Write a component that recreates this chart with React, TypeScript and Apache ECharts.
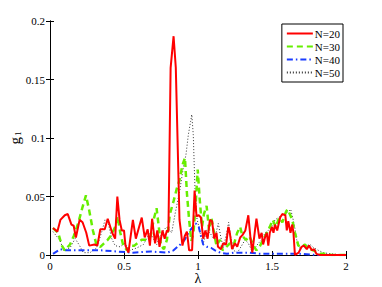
import React, { useEffect, useRef } from "react";
import * as echarts from "echarts";

const xTicks = ["0", "0.5", "1", "1.5", "2"];
const yTicks = ["0", "0.05", "0.1", "0.15", "0.2"];
const seriesNames = ["N=20", "N=30", "N=40", "N=50"];

const lamN20 = [0.02,0.05,0.07,0.10,0.12,0.145,0.16,0.175,0.20,0.22,0.245,0.265,0.30,0.32,0.34,0.37,0.39,0.42,0.44,0.455,0.47,0.485,0.50,0.51,0.53,0.56,0.58,0.60,0.62,0.64,0.66,0.675,0.69,0.71,0.725,0.74,0.76,0.775,0.79,0.80,0.815,0.835,0.85,0.875,0.885,0.895,0.91,0.925,0.94,0.96,0.977,0.99,1.005,1.02,1.035,1.05,1.065,1.08,1.095,1.11,1.125,1.135,1.155,1.17,1.19,1.205,1.215,1.23,1.25,1.265,1.285,1.30,1.32,1.34,1.355,1.367,1.385,1.395,1.415,1.43,1.44,1.455,1.465,1.475,1.485,1.50,1.51,1.52,1.535,1.555,1.57,1.59,1.60,1.61,1.625,1.637,1.645,1.655,1.68,1.70,1.715,1.735,1.75,1.77,1.785,1.80,1.825,1.90,2.00];
const gN20 = [0.023,0.020,0.030,0.034,0.035,0.026,0.025,0.015,0.030,0.028,0.019,0.008,0.009,0.008,0.022,0.022,0.031,0.019,0.014,0.050,0.030,0.021,0.021,0.008,0.002,0.030,0.014,0.023,0.032,0.015,0.022,0.008,0.031,0.010,0.021,0.007,0.021,0.014,0.021,0.020,0.160,0.187,0.160,0.030,0.020,0.008,0.016,0.020,0.004,0.004,0.055,0.033,0.034,0.032,0.014,0.021,0.014,0.030,0.029,0.014,0.019,0.007,0.005,0.010,0.009,0.024,0.019,0.005,0.010,0.007,0.015,0.017,0.021,0.034,0.014,0.002,0.021,0.031,0.014,0.019,0.009,0.016,0.019,0.008,0.019,0.024,0.019,0.026,0.021,0.032,0.035,0.034,0.021,0.029,0.019,0.026,0.019,0.000,0.002,0.007,0.008,0.005,0.008,0.004,0.005,0.001,0.000,0.000,0.000];

const lamN30 = [0.02,0.055,0.08,0.10,0.135,0.16,0.19,0.22,0.243,0.265,0.29,0.315,0.34,0.365,0.39,0.415,0.44,0.457,0.475,0.495,0.52,0.545,0.57,0.59,0.62,0.655,0.68,0.70,0.72,0.735,0.75,0.77,0.79,0.81,0.835,0.855,0.875,0.895,0.912,0.925,0.94,0.955,0.97,0.985,0.998,1.012,1.027,1.04,1.058,1.075,1.09,1.108,1.125,1.148,1.167,1.185,1.215,1.24,1.265,1.285,1.30,1.325,1.347,1.375,1.395,1.42,1.44,1.465,1.485,1.505,1.525,1.55,1.57,1.595,1.605,1.62,1.637,1.655,1.678,1.70,1.723,1.745,1.78,1.825,1.87,1.90,2.00];
const gN30 = [0.023,0.019,0.008,0.004,0.009,0.016,0.027,0.041,0.051,0.038,0.021,0.008,0.007,0.010,0.013,0.017,0.024,0.033,0.019,0.008,0.004,0.008,0.008,0.010,0.013,0.013,0.016,0.030,0.040,0.024,0.008,0.005,0.013,0.035,0.046,0.056,0.064,0.077,0.083,0.053,0.030,0.012,0.020,0.045,0.073,0.047,0.024,0.035,0.042,0.021,0.032,0.019,0.008,0.013,0.004,0.006,0.010,0.008,0.019,0.024,0.016,0.013,0.016,0.008,0.004,0.008,0.013,0.019,0.024,0.030,0.024,0.032,0.028,0.037,0.039,0.035,0.030,0.019,0.008,0.007,0.009,0.005,0.004,0.001,0.001,0.000,0.000];

const lamN40 = [0.02,0.07,0.11,0.22,0.34,0.45,0.56,0.68,0.79,0.835,0.88,0.91,0.935,0.965,0.985,1.005,1.02,1.035,1.06,1.09,1.115,1.15,1.195,1.24,1.29,1.35,1.42,1.51,1.60,1.69,1.80,2.00];
const gN40 = [0.001,0.005,0.004,0.004,0.004,0.003,0.002,0.003,0.002,0.004,0.009,0.013,0.019,0.024,0.027,0.024,0.016,0.009,0.007,0.006,0.004,0.002,0.001,0.002,0.002,0.002,0.001,0.001,0.001,0.001,0.000,0.000];

const lamN50 = [0.02,0.07,0.09,0.135,0.17,0.20,0.225,0.27,0.315,0.35,0.372,0.394,0.417,0.44,0.473,0.507,0.54,0.586,0.631,0.676,0.698,0.721,0.743,0.766,0.788,0.822,0.845,0.878,0.90,0.919,0.935,0.95,0.958,0.968,0.979,0.99,1.014,1.036,1.059,1.081,1.104,1.122,1.137,1.153,1.171,1.194,1.207,1.221,1.24,1.266,1.295,1.318,1.34,1.363,1.385,1.408,1.43,1.453,1.475,1.498,1.52,1.543,1.565,1.588,1.61,1.626,1.64,1.653,1.667,1.685,1.712,1.734,1.757,1.784,1.813,1.847,1.892,2.00];
const gN50 = [0.020,0.012,0.004,0.006,0.014,0.008,0.002,0.002,0.006,0.020,0.030,0.027,0.014,0.008,0.007,0.010,0.004,0.006,0.009,0.019,0.014,0.009,0.016,0.021,0.024,0.019,0.035,0.056,0.074,0.086,0.103,0.114,0.120,0.103,0.059,0.033,0.019,0.010,0.021,0.019,0.014,0.019,0.027,0.016,0.006,0.019,0.028,0.016,0.004,0.002,0.008,0.013,0.010,0.004,0.006,0.010,0.013,0.019,0.021,0.024,0.030,0.032,0.034,0.035,0.037,0.039,0.032,0.024,0.013,0.006,0.008,0.008,0.009,0.006,0.004,0.002,0.001,0.000];

const zip = (xs: number[], ys: number[]) => xs.map((x, i) => [x, ys[i]]);

const FONT = "Times New Roman";

export default function App() {
  const ref = useRef<HTMLDivElement>(null);
  useEffect(() => {
    if (!ref.current) return;
    const chart = echarts.init(ref.current, null, { renderer: "svg" });
    const xLabel = (v: number) => xTicks[Math.round(v / 0.5)] ?? "";
    const yLabel = (v: number) => yTicks[Math.round(v / 0.05)] ?? "";
    const axisCommon = {
      axisLine: { show: true, lineStyle: { color: "#000", width: 1 } },
      axisTick: { show: true, inside: true, length: 4, lineStyle: { color: "#000" } },
      splitLine: { show: false },
    };
    chart.setOption({
      animation: false,
      backgroundColor: "#fff",
      textStyle: { fontFamily: FONT },
      grid: { left: 50, top: 21, width: 296, height: 234, containLabel: false, outerBoundsMode: "none" },
      legend: {
        orient: "vertical",
        right: 39,
        top: 24,
        padding: [4, 3, 4, 4],
        itemGap: 2,
        itemWidth: 26,
        itemHeight: 11,
        backgroundColor: "#fff",
        borderColor: "#000",
        borderWidth: 1,
        borderRadius: 0,
        itemStyle: { opacity: 0 },
        textStyle: { fontFamily: FONT, fontSize: 11, color: "#000", padding: [0, 0, 0, -3] },
        data: seriesNames,
      },
      xAxis: [
        {
          type: "value", min: 0, max: 2, interval: 0.5,
          name: "λ", nameLocation: "middle", nameGap: 17, nameMoveOverlap: false,
          nameTextStyle: { fontFamily: FONT, fontSize: 14, lineHeight: 12, color: "#000" },
          axisLabel: { formatter: xLabel, fontFamily: FONT, fontSize: 11, lineHeight: 11, color: "#000", margin: 5 },
          ...axisCommon,
        },
        {
          type: "value", position: "top", min: 0, max: 2, interval: 0.5,
          axisLabel: { show: false },
          ...axisCommon,
        },
      ],
      yAxis: [
        {
          type: "value", min: 0, max: 0.2, interval: 0.05,
          name: "g{s|1}", nameLocation: "middle", nameGap: 28, nameRotate: 90, nameMoveOverlap: false,
          nameTextStyle: {
            fontFamily: FONT, fontSize: 15, color: "#000",
            rich: { s: { fontFamily: FONT, fontSize: 9, color: "#000", verticalAlign: "bottom", padding: [6, 0, 0, 1] } },
          },
          axisLabel: { formatter: yLabel, fontFamily: FONT, fontSize: 11, color: "#000", margin: 5 },
          ...axisCommon,
        },
        {
          type: "value", position: "right", min: 0, max: 0.2, interval: 0.05,
          axisLabel: { show: false },
          ...axisCommon,
        },
      ],
      series: [
        {
          name: seriesNames[0], type: "line", symbol: "none", data: zip(lamN20, gN20), z: 5,
          lineStyle: { color: "#ff0000", width: 2, type: "solid" }, itemStyle: { color: "#ff0000" },
        },
        {
          name: seriesNames[1], type: "line", symbol: "none", data: zip(lamN30, gN30), z: 4,
          lineStyle: { color: "#66ee00", width: 2.5, type: [6, 4] }, itemStyle: { color: "#66ee00" },
        },
        {
          name: seriesNames[2], type: "line", symbol: "none", data: zip(lamN40, gN40), z: 3,
          lineStyle: { color: "#1a3cff", width: 2, type: [6, 3, 1.5, 3] }, itemStyle: { color: "#1a3cff" },
        },
        {
          name: seriesNames[3], type: "line", symbol: "none", data: zip(lamN50, gN50), z: 2,
          lineStyle: { color: "#333", width: 1, type: [1, 2] }, itemStyle: { color: "#333" },
        },
      ],
    });
    return () => chart.dispose();
  }, []);
  return <div ref={ref} style={{ position: "fixed", left: 0, top: 0, width: 382, height: 287 }} />;
}
